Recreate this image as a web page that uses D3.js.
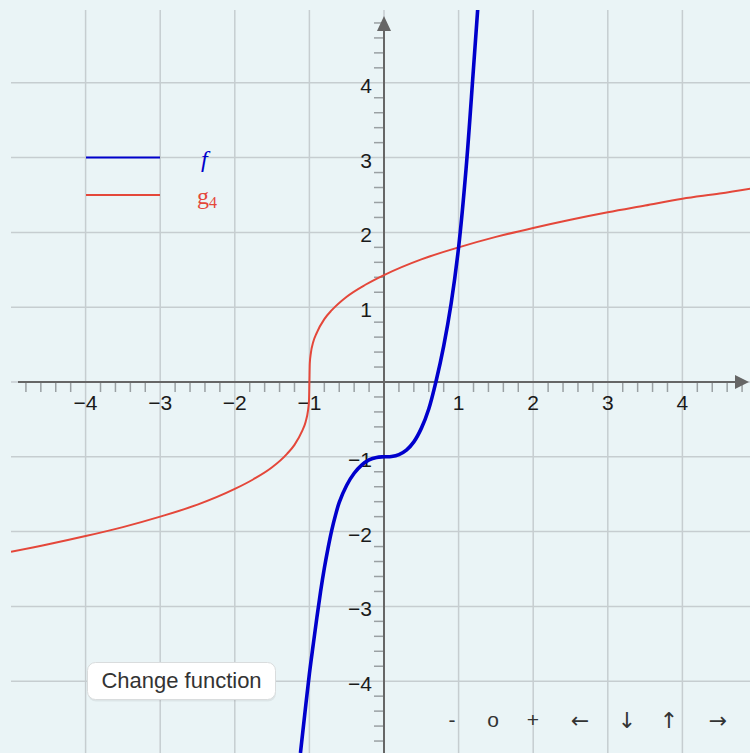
<!DOCTYPE html>
<html><head><meta charset="utf-8">
<script src="https://cdn.jsdelivr.net/npm/d3@7"></script>
<style>html,body{margin:0;padding:0;background:#eaf4f6;} svg{display:block;}</style>
</head><body>
<svg id="c" width="750" height="753"></svg>
<script>
// ---- data ----
const xTicks = [-4, -3, -2, -1, 1, 2, 3, 4];
const yTicks = [-4, -3, -2, -1, 1, 2, 3, 4];
const gridValues = [-4, -3, -2, -1, 0, 1, 2, 3, 4];
const fX = [-1.12, -1.1, -1.0, -0.95, -0.9, -0.85, -0.8, -0.75, -0.7, -0.65, -0.6, -0.5, -0.4, -0.3, -0.2, -0.1, 0, 0.1, 0.2, 0.3, 0.4, 0.5, 0.6, 0.7, 0.8, 0.9, 1.0, 1.1, 1.2, 1.3];
const fY = [-4.96, -4.78, -3.90, -3.52, -3.15, -2.80, -2.49, -2.22, -1.98, -1.78, -1.61, -1.38, -1.22, -1.11, -1.04, -1.008, -1.0, -0.995, -0.97, -0.91, -0.80, -0.62, -0.36, 0.02, 0.48, 1.05, 1.80, 2.85, 4.20, 5.60];
const gX = [-5, -4.5, -4, -3.5, -3, -2.5, -2, -1.75, -1.5, -1.3, -1.2, -1.1, -1.05, -1.02, -1.005, -1.0, -0.995, -0.98, -0.95, -0.9, -0.8, -0.7, -0.5, -0.25, 0, 0.5, 1, 1.5, 2, 2.5, 3, 3.5, 4, 4.5, 5];
const gY = [-2.27, -2.17, -2.06, -1.94, -1.80, -1.64, -1.43, -1.30, -1.14, -0.96, -0.84, -0.66, -0.53, -0.39, -0.245, 0, 0.245, 0.39, 0.53, 0.66, 0.84, 0.96, 1.14, 1.30, 1.43, 1.64, 1.80, 1.94, 2.06, 2.17, 2.27, 2.36, 2.45, 2.52, 2.60];
const legendNames = ["f", "g"];
const legendSubs = ["", "4"];
const buttonLabel = "Change function";
const controls = ["-", "o", "+", "←", "↓", "↑", "→"];
const controlX = [452, 493, 533, 580, 627, 669, 718];

// ---- setup ----
const W = 750, H = 753;
const svg = d3.select("#c");
const x = d3.scaleLinear().domain([-5, 5]).range([11, 757]);
const y = d3.scaleLinear().domain([-5, 5]).range([756, 8]);
const plotLeft = 11, plotTop = 10;
const blue = "#0000cc", red = "#e4473a";
const axisCol = "#666", gridCol = "#c6cdd0", tickCol = "#9aa0a3";
const sans = "'Liberation Sans', Arial, Helvetica, sans-serif";
const serif = "'Liberation Serif', 'Times New Roman', serif";
const fmt = v => v < 0 ? "\u2212" + Math.abs(v) : String(v);

svg.append("rect").attr("width", W).attr("height", H).attr("fill", "#eaf4f6");

// grid
const grid = svg.append("g").attr("stroke", gridCol).attr("stroke-width", 1.5);
grid.selectAll(".gv").data(gridValues).enter().append("line")
  .attr("x1", d => x(d)).attr("x2", d => x(d)).attr("y1", plotTop).attr("y2", H);
grid.selectAll(".gh").data(gridValues).enter().append("line")
  .attr("y1", d => y(d)).attr("y2", d => y(d)).attr("x1", plotLeft).attr("x2", W);

// minor ticks
const minor = d3.range(-24, 25).map(i => i / 5).filter(v => Math.abs(v - Math.round(v)) > 1e-6);
const tk = svg.append("g").attr("stroke", tickCol).attr("stroke-width", 1.5);
tk.selectAll(".tx").data(minor).enter().append("line")
  .attr("x1", d => x(d)).attr("x2", d => x(d)).attr("y1", y(0)).attr("y2", y(0) + 10);
tk.selectAll(".ty").data(minor).enter().append("line")
  .attr("y1", d => y(d)).attr("y2", d => y(d)).attr("x1", x(0) - 10).attr("x2", x(0));

// axes
svg.append("line").attr("x1", 18).attr("x2", 738).attr("y1", y(0)).attr("y2", y(0))
  .attr("stroke", axisCol).attr("stroke-width", 2);
svg.append("line").attr("x1", x(0)).attr("x2", x(0)).attr("y1", H).attr("y2", 28)
  .attr("stroke", axisCol).attr("stroke-width", 2);
svg.append("path").attr("fill", axisCol)
  .attr("d", `M${749},${y(0)} L${735},${y(0) - 7} L${735},${y(0) + 7} Z`);
svg.append("path").attr("fill", axisCol)
  .attr("d", `M${x(0)},${16} L${x(0) - 7},${31} L${x(0) + 7},${31} Z`);

// tick labels
const lab = svg.append("g").attr("font-family", sans).attr("font-size", 21).attr("fill", "#1a1a1a");
lab.selectAll(".lx").data(xTicks).enter().append("text")
  .attr("x", d => x(d)).attr("y", y(0) + 28).attr("text-anchor", "middle").text(fmt);
lab.selectAll(".ly").data(yTicks).enter().append("text")
  .attr("x", x(0) - 12).attr("y", d => y(d) + 10).attr("text-anchor", "end").text(fmt);

// curves
svg.append("clipPath").attr("id", "clip").append("rect")
  .attr("x", plotLeft).attr("y", plotTop).attr("width", W - plotLeft).attr("height", H - plotTop);
const lineG = d3.line().x(d => x(d[0])).y(d => y(d[1])).curve(d3.curveMonotoneX);
const lineF = d3.line().x(d => x(d[0])).y(d => y(d[1])).curve(d3.curveCatmullRom.alpha(0.5));
const plot = svg.append("g").attr("clip-path", "url(#clip)");
plot.append("path").datum(gX.map((v, i) => [v, gY[i]])).attr("d", lineG)
  .attr("fill", "none").attr("stroke", red).attr("stroke-width", 2);
plot.append("path").datum(fX.map((v, i) => [v, fY[i]])).attr("d", lineF)
  .attr("fill", "none").attr("stroke", blue).attr("stroke-width", 3.6)
  .attr("stroke-linejoin", "round");

// legend
const legColors = [blue, red];
const legY = [157.5, 195];
legendNames.forEach((n, i) => {
  svg.append("line").attr("x1", 86).attr("x2", 160).attr("y1", legY[i]).attr("y2", legY[i])
    .attr("stroke", legColors[i]).attr("stroke-width", 2);
  const t = svg.append("text").attr("x", i === 0 ? 201 : 197).attr("y", legY[i] + 9)
    .attr("font-family", serif).attr("font-size", 24).attr("fill", legColors[i])
    .attr("font-style", i === 0 ? "italic" : "normal");
  t.append("tspan").text(n);
  if (legendSubs[i]) t.append("tspan").attr("font-size", 16).attr("dy", 4).text(legendSubs[i]);
});

// button
svg.append("rect").attr("x", 88).attr("y", 663).attr("width", 188).attr("height", 37).attr("rx", 8)
  .attr("fill", "#000").attr("opacity", 0.06).attr("transform", "translate(0,1.5)");
svg.append("rect").attr("x", 87.5).attr("y", 662.5).attr("width", 188).attr("height", 37).attr("rx", 8)
  .attr("fill", "#fff").attr("stroke", "#d9dcdd").attr("stroke-width", 1);
svg.append("text").attr("x", 181.5).attr("y", 688).attr("text-anchor", "middle")
  .attr("font-family", sans).attr("font-size", 22).attr("fill", "#333").text(buttonLabel);

// controls
svg.append("g").selectAll("text").data(controls).enter().append("text")
  .attr("x", (d, i) => controlX[i]).attr("y", (d, i) => i < 3 ? 727 : 728)
  .attr("text-anchor", "middle")
  .attr("font-family", (d, i) => i < 3 ? sans : "'DejaVu Sans', sans-serif")
  .attr("font-size", (d, i) => i < 3 ? 21 : 22)
  .attr("fill", "#333").text(d => d);
</script></body></html>
